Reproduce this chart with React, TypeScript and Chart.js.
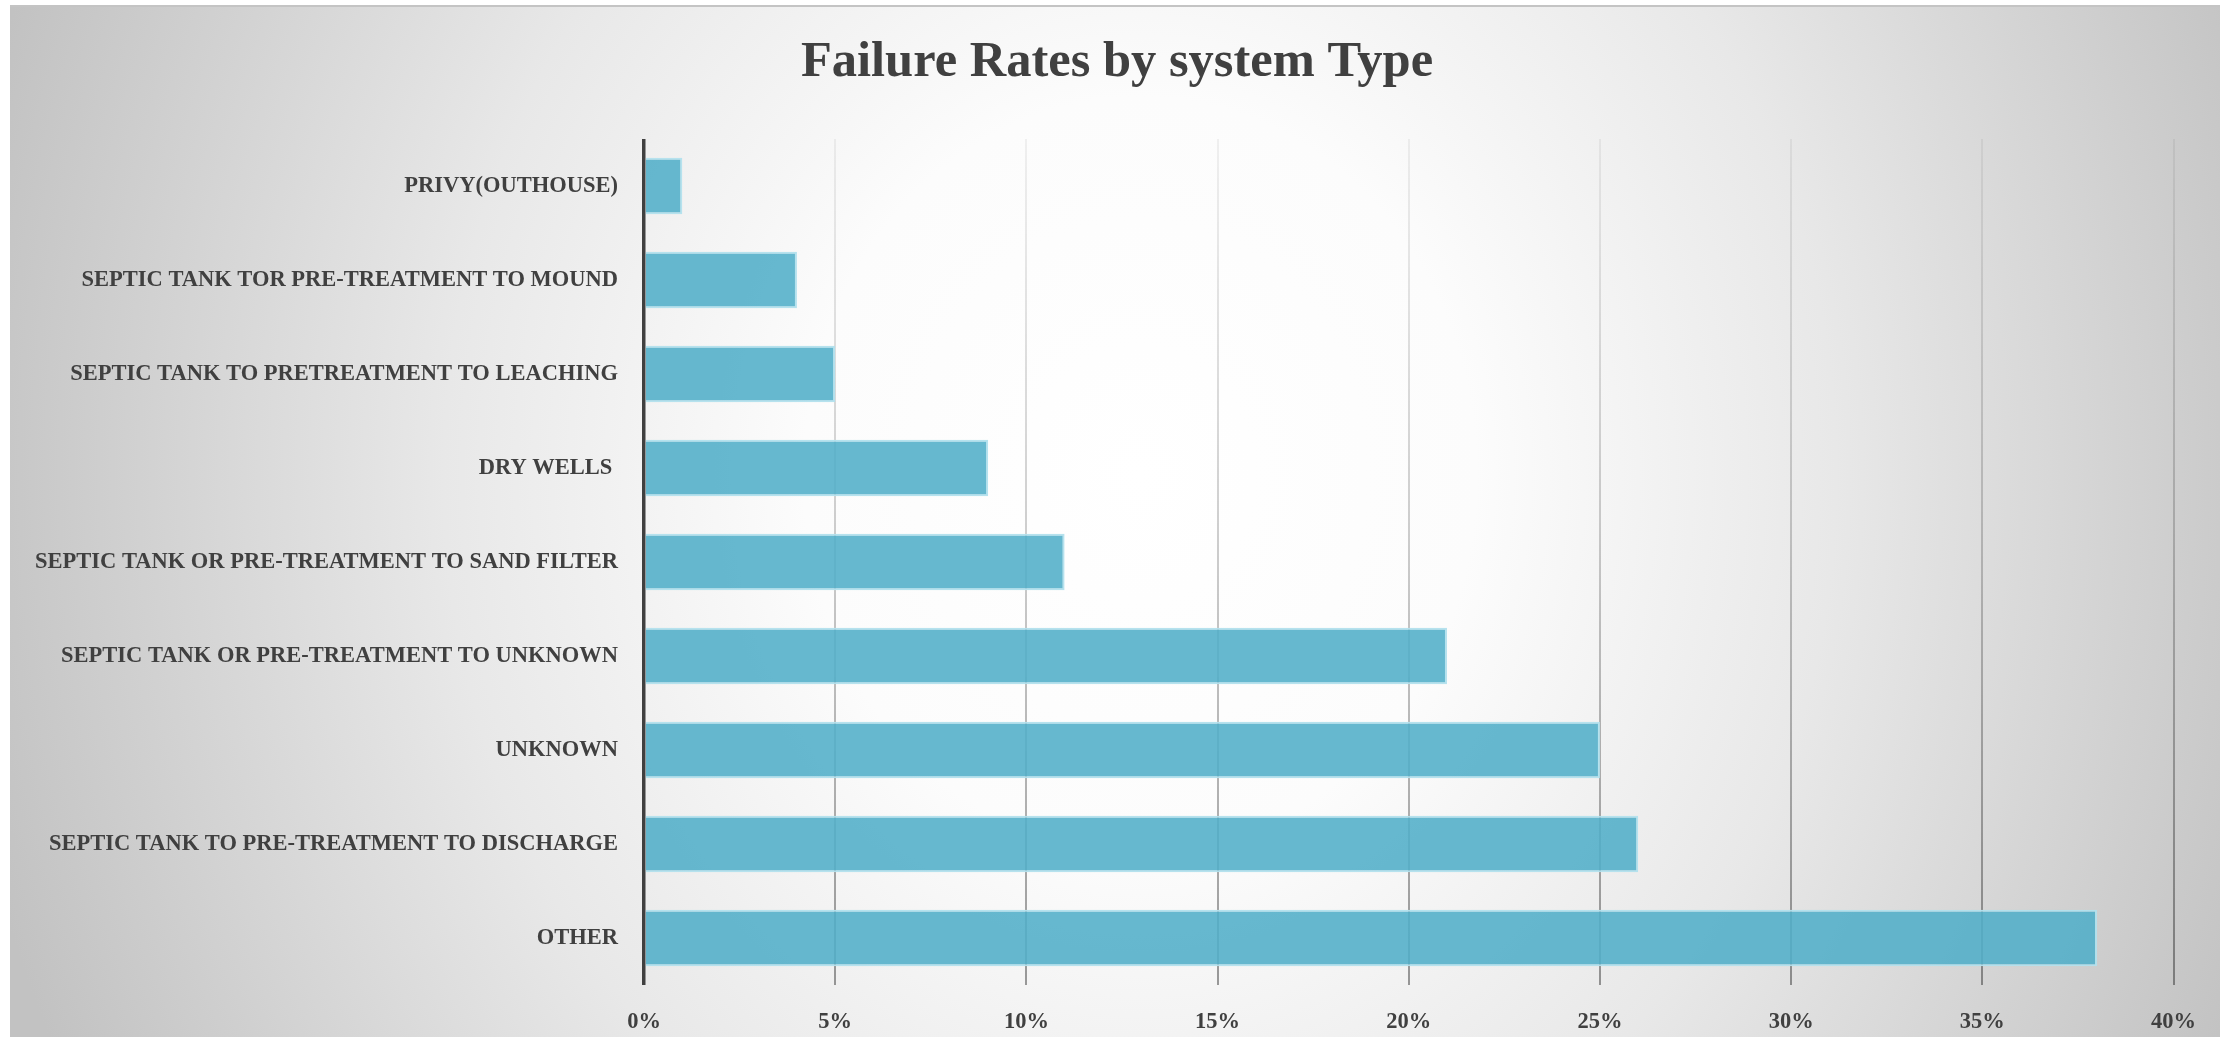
import React, { useEffect, useRef } from "react";
import { Chart, registerables } from "chart.js";

Chart.register(...registerables);

const categories: string[] = [
  "PRIVY(OUTHOUSE)",
  "SEPTIC TANK TOR PRE-TREATMENT TO MOUND",
  "SEPTIC TANK TO PRETREATMENT TO LEACHING",
  "DRY WELLS ",
  "SEPTIC TANK OR PRE-TREATMENT TO SAND FILTER",
  "SEPTIC TANK OR PRE-TREATMENT TO UNKNOWN",
  "UNKNOWN",
  "SEPTIC TANK TO PRE-TREATMENT TO DISCHARGE",
  "OTHER",
];

const failureRates: number[] = [1, 4, 5, 9, 11, 21, 25, 26, 38];

const chartTitle = "Failure Rates by system Type";
const xMin = 0;
const xMax = 40;
const xStep = 5;

const FONT = "'Liberation Serif', 'Times New Roman', serif";

const titlePlugin = {
  id: "centeredTitle",
  afterDraw(chart: any) {
    const ctx = chart.ctx;
    ctx.save();
    ctx.font = `bold 50.5px ${FONT}`;
    ctx.fillStyle = "#404040";
    ctx.textAlign = "center";
    ctx.textBaseline = "middle";
    ctx.fillText(chartTitle, chart.width / 2 + 2, 58);
    ctx.restore();
  },
};

export default function App() {
  const canvasRef = useRef<HTMLCanvasElement | null>(null);

  useEffect(() => {
    if (!canvasRef.current) return;
    const chart = new Chart(canvasRef.current, {
      type: "bar",
      data: {
        labels: categories,
        datasets: [
          {
            label: "Failure rate",
            data: failureRates,
            backgroundColor: "rgba(81,174,200,0.88)",
            borderColor: "rgba(178,224,237,0.95)",
            borderWidth: 2,
            barPercentage: 0.6,
            categoryPercentage: 1,
          },
        ],
      },
      plugins: [titlePlugin],
      options: {
        indexAxis: "y",
        animation: false,
        responsive: true,
        maintainAspectRatio: false,
        layout: { padding: { top: 134, right: 42, bottom: 0, left: 0 } },
        plugins: {
          legend: { display: false },
          tooltip: { enabled: false },
          title: { display: false },
        },
        scales: {
          x: {
            type: "linear",
            min: xMin,
            max: xMax,
            ticks: {
              stepSize: xStep,
              padding: 24,
              color: "#404040",
              font: { family: FONT, size: 22.5, weight: "bold" },
              callback: (v: any) => `${v}%`,
            },
            border: { display: false },
            grid: {
              drawTicks: false,
              lineWidth: (ctx: any) => (ctx.index === 0 ? 3.5 : 2),
              color: (ctx: any) => {
                if (ctx.index === 0) return "#404040";
                const ch = ctx.chart;
                const area = ch.chartArea;
                if (!area) return "rgba(0,0,0,0.25)";
                const g = ch.ctx.createLinearGradient(0, area.top, 0, area.bottom);
                g.addColorStop(0, "rgba(0,0,0,0.05)");
                g.addColorStop(0.5, "rgba(0,0,0,0.2)");
                g.addColorStop(1, "rgba(0,0,0,0.38)");
                return g;
              },
            },
            afterFit: (scale: any) => {
              scale.height = 52;
            },
          },
          y: {
            type: "category",
            ticks: {
              padding: 26,
              color: "#404040",
              font: { family: FONT, size: 22.5, weight: "bold" },
            },
            border: { display: false },
            grid: { display: false, drawTicks: false },
            afterFit: (scale: any) => {
              scale.width = 634;
            },
          },
        },
      },
    });
    return () => chart.destroy();
  }, []);

  return (
    <div
      style={{
        position: "absolute",
        left: 10,
        top: 5,
        width: 2210,
        height: 1032,
        background:
          "radial-gradient(ellipse 1200px 1350px at 1130px 470px, #ffffff 0%, #fcfcfc 28%, #e8e8e8 58%, #c2c2c2 100%)",
        boxShadow: "inset 0 2px 0 #c4c4c4",
      }}
    >
      <canvas ref={canvasRef} style={{ width: "100%", height: "100%" }} />
    </div>
  );
}
